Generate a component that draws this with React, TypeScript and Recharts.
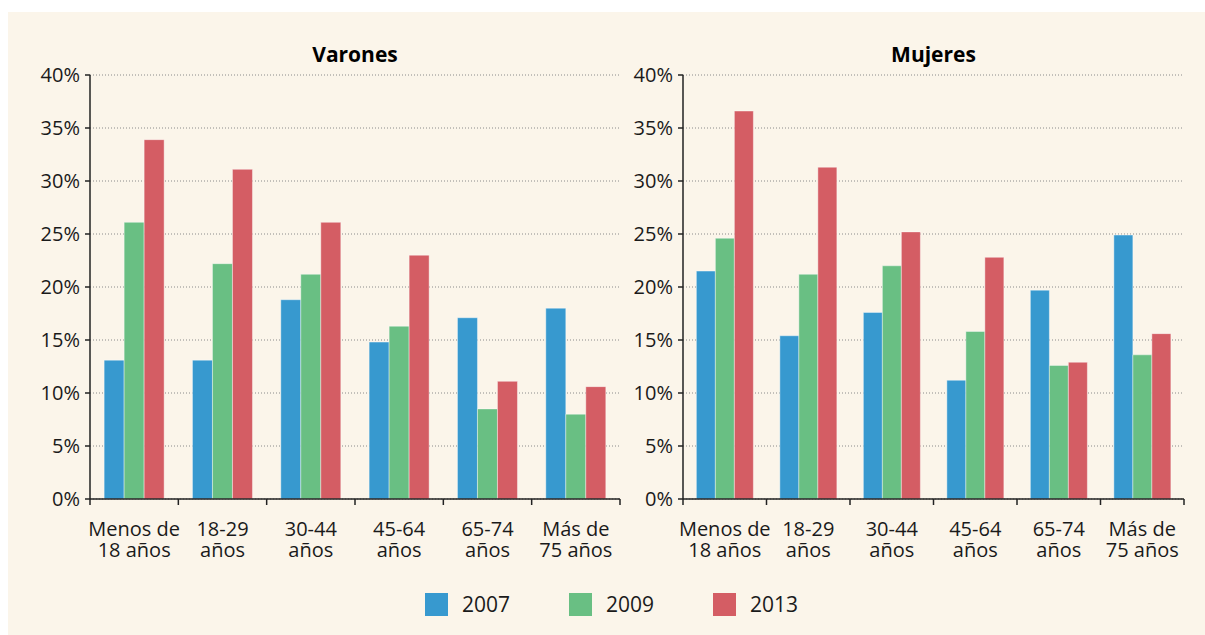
import React from 'react';
import { BarChart, Bar, XAxis, YAxis, CartesianGrid } from 'recharts';

const categories = [
  'Menos de\n18 años',
  '18-29\naños',
  '30-44\naños',
  '45-64\naños',
  '65-74\naños',
  'Más de\n75 años',
];

const years = ['2007', '2009', '2013'];
const colors = ['#3799CF', '#69BF83', '#D45D64'];

const varones2007 = [13.1, 13.1, 18.8, 14.8, 17.1, 18.0];
const varones2009 = [26.1, 22.2, 21.2, 16.3, 8.5, 8.0];
const varones2013 = [33.9, 31.1, 26.1, 23.0, 11.1, 10.6];

const mujeres2007 = [21.5, 15.4, 17.6, 11.2, 19.7, 24.9];
const mujeres2009 = [24.6, 21.2, 22.0, 15.8, 12.6, 13.6];
const mujeres2013 = [36.6, 31.3, 25.2, 22.8, 12.9, 15.6];

const yTicks = [0, 5, 10, 15, 20, 25, 30, 35, 40];

const buildRows = (s07: number[], s09: number[], s13: number[]) =>
  categories.map((cat, i) => ({ cat, y2007: s07[i], y2009: s09[i], y2013: s13[i] }));

const varonesData = buildRows(varones2007, varones2009, varones2013);
const mujeresData = buildRows(mujeres2007, mujeres2009, mujeres2013);

const INK = '#1a1a1a';
const AXIS = '#222';

// two-line category label plus tick marks on the band edges
const XTick = (props: any) => {
  const { x, y, payload, index, bandHalf } = props;
  const half = payload && payload.offset ? payload.offset : bandHalf;
  const lines = String(payload.value).split('\n');
  return (
    <g>
      <line x1={x - half} y1={y} x2={x - half} y2={y + 6} stroke={AXIS} strokeWidth={1.5} />
      {index === categories.length - 1 && (
        <line x1={x + half} y1={y} x2={x + half} y2={y + 6} stroke={AXIS} strokeWidth={1.5} />
      )}
      {lines.map((l, i) => (
        <text key={i} x={x} y={y + 37 + i * 21} textAnchor="middle" fontSize={20} fill={INK}>
          {l}
        </text>
      ))}
    </g>
  );
};

interface PanelProps {
  title: string;
  data: any[];
  left: number;
  width: number;
  yAxisWidth: number;
  marginRight: number;
}

const Panel: React.FC<PanelProps> = ({ title, data, left, width, yAxisWidth, marginRight }) => {
  const plotWidth = width - yAxisWidth - marginRight;
  return (
    <div style={{ position: 'absolute', left, top: 0, width, height: 570 }}>
      <div
        style={{
          position: 'absolute',
          left: yAxisWidth,
          width: plotWidth,
          top: 28,
          textAlign: 'center',
          fontWeight: 700,
          fontSize: 21,
          color: '#000',
        }}
      >
        {title}
      </div>
      <BarChart
        width={width}
        height={570}
        data={data}
        margin={{ top: 63, right: marginRight, left: 0, bottom: 0 }}
        barCategoryGap="16%"
        barGap={0}
      >
        <CartesianGrid horizontal vertical={false} stroke="#8a8a8a" strokeDasharray="1 2" />
        <XAxis
          dataKey="cat"
          interval={0}
          height={83}
          tickSize={0}
          tickMargin={0}
          tickLine={false}
          axisLine={{ stroke: AXIS, strokeWidth: 1.5 }}
          tick={<XTick bandHalf={plotWidth / categories.length / 2} />}
        />
        <YAxis
          width={yAxisWidth}
          domain={[0, 40]}
          ticks={yTicks}
          interval={0}
          tickSize={5}
          tickMargin={5}
          tickFormatter={(v: number) => `${v}%`}
          tick={{ fontSize: 20, fill: INK }}
          axisLine={{ stroke: AXIS, strokeWidth: 1.5 }}
          tickLine={{ stroke: AXIS, strokeWidth: 1.5 }}
        />
        {years.map((yr, i) => (
          <Bar
            key={yr}
            dataKey={`y${yr}`}
            fill={colors[i]}
            stroke="rgba(255,255,255,0.4)"
            strokeWidth={1}
            isAnimationActive={false}
          />
        ))}
      </BarChart>
    </div>
  );
};

export default function App() {
  return (
    <div
      style={{
        position: 'fixed',
        left: 8,
        top: 12,
        right: 0,
        bottom: 0,
        background: '#FBF5EA',
        fontFamily: '"Open Sans", sans-serif',
        overflow: 'hidden',
      }}
    >
      <Panel title="Varones" data={varonesData} left={0} width={620} yAxisWidth={82} marginRight={8} />
      <Panel title="Mujeres" data={mujeresData} left={620} width={577} yAxisWidth={55} marginRight={21} />
      <div style={{ position: 'absolute', left: 417, top: 581, display: 'flex', alignItems: 'center' }}>
        {years.map((yr, i) => (
          <div key={yr} style={{ display: 'flex', alignItems: 'center', marginRight: i < years.length - 1 ? 59 : 0 }}>
            <div style={{ width: 23, height: 23, background: colors[i] }} />
            <span style={{ marginLeft: 14, fontSize: 21, color: INK, lineHeight: '23px' }}>{yr}</span>
          </div>
        ))}
      </div>
    </div>
  );
}
